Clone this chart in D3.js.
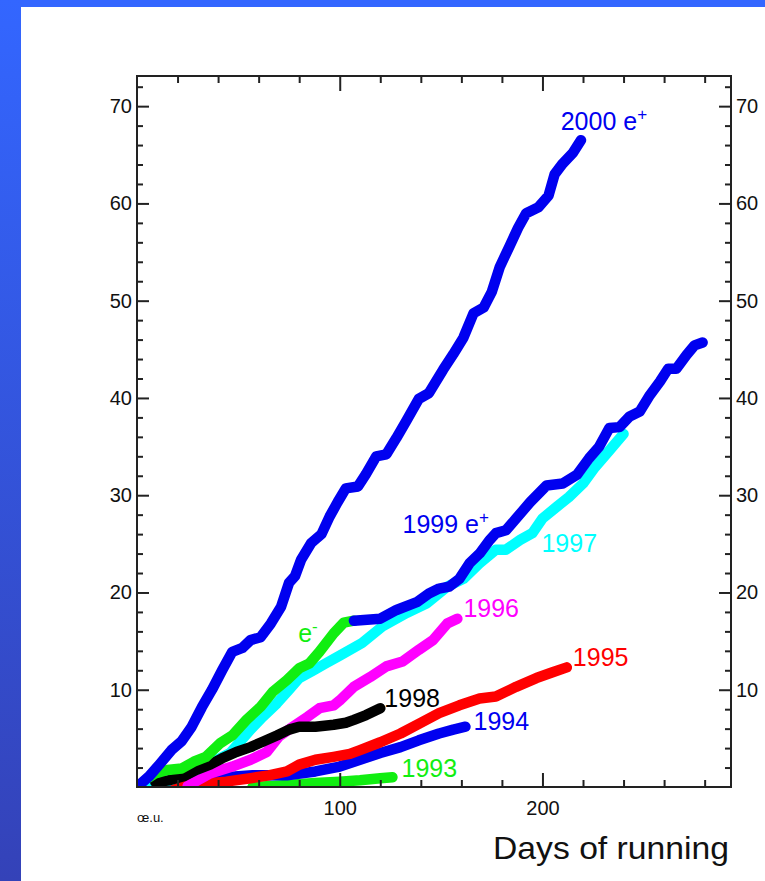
<!DOCTYPE html>
<html>
<head>
<meta charset="utf-8">
<script src="https://cdn.jsdelivr.net/npm/d3@7"></script>
<style>
	body { margin: 0; background: #fff; }
	svg { display: block; font-family: "Liberation Sans", Arial, sans-serif; }
</style>
</head>
<body>
<svg id="chart" width="765" height="881"></svg>
<script>
(function(window) {

	// cumulative luminosity vs days of running, one array per year [day, value]
	var run1993 = [[57,0],[74,0.2],[88,0.4],[100,0.55],[110,0.7],[120,0.9],[126,1.0]];
	var run1994 = [[16,0.2],[36,0.9],[57,1.2],[74,1.2],[88,1.6],[100,2.1],[110,2.8],[120,3.5],[130,4.1],[139,4.8],[149,5.5],[156,5.9],[162,6.2]];
	var run1995 = [[19,0.2],[31,0.3],[44,0.55],[56,0.9],[65,1.2],[74,1.6],[80,2.3],[88,2.8],[97,3.1],[105,3.4],[110,3.8],[120,4.6],[130,5.5],[139,6.5],[149,7.6],[159,8.4],[169,9.1],[177,9.3],[187,10.3],[197,11.2],[205,11.8],[212,12.3]];
	var run1996 = [[25,0.1],[30,0.7],[36,1.4],[47,2.1],[56,2.8],[64,3.6],[70,5.2],[77,6.2],[84,7.2],[90,8.1],[97,8.4],[100,8.9],[107,10.3],[115,11.3],[123,12.4],[131,12.9],[139,14.1],[146,15.1],[153,16.8],[158,17.3]];
	var run1997 = [[4,0],[15,0.6],[25,1.4],[35,2.3],[46,3.5],[51,4.7],[56,5.9],[62,7.2],[69,8.6],[75,10],[80,11.2],[87,12],[93,12.7],[100,13.5],[111,14.8],[121,16.5],[133,17.9],[143,18.9],[153,20.6],[161,21.4],[169,23],[177,24.4],[182,24.4],[189,25.4],[195,26.1],[200,27.6],[207,28.8],[213,29.8],[220,31.2],[226,32.9],[233,34.6],[240,36.3]];
	var run1998 = [[9,0.5],[16,0.7],[23,1.1],[29,1.75],[36,2.3],[42,2.95],[49,3.6],[56,4.1],[62,4.65],[69,5.3],[75,5.9],[80,6.2],[88,6.2],[97,6.4],[103,6.6],[107,6.9],[113,7.4],[120,8.1]];
	var run1999em = [[6,1.0],[9,1.4],[15,1.75],[22,1.9],[28,2.6],[34,3.1],[41,4.5],[47,5.3],[54,6.9],[61,8.25],[67,9.8],[74,11],[80,12.2],[85,12.7],[90,13.9],[97,15.8],[102,16.9],[107,17.1]];
	var run1999ep = [[107,17.1],[120,17.3],[128,18.2],[138,19],[144,19.9],[149,20.4],[154,20.6],[159,21.4],[164,23],[169,24],[174,25.4],[177,26.1],[182,26.4],[187,27.6],[194,29.3],[202,31],[210,31.2],[217,32.1],[223,33.8],[228,35],[233,36.9],[238,37],[243,38.1],[248,38.6],[253,40.3],[258,41.7],[262,43],[266,43],[271,44.4],[275,45.4],[279,45.7]];
	var run2000 = [[0,0],[6,1.1],[11,2.3],[17,3.8],[22,4.7],[27,6.2],[32,8.2],[37,10],[42,12],[47,13.9],[52,14.3],[56,15.1],[61,15.4],[66,16.8],[71,18.5],[75,21],[78,21.7],[81,23.4],[86,25.1],[91,26],[95,27.8],[99,29.3],[103,30.7],[109,30.9],[113,32.2],[118,34],[123,34.2],[128,35.9],[133,37.7],[139,39.9],[144,40.5],[151,42.9],[156,44.5],[161,46.2],[166,48.7],[171,49.3],[175,50.9],[179,53.5],[184,55.7],[188,57.5],[192,59],[198,59.6],[203,60.8],[206,63],[210,64.1],[215,65.2],[219,66.5]];

	var seriesNames = ['1993', '1994', '1995', '1996', '1997', '1998', 'e-', '1999 e+', '2000 e+'];
	var seriesData = [run1993, run1994, run1995, run1996, run1997, run1998, run1999em, run1999ep, run2000];
	var seriesColors = ['#11ee11', '#0000f0', '#ff0000', '#ff00ff', '#00ffff', '#000000', '#11ee11', '#0000f0', '#0000f0'];

	// label anchors in data units (day, value)
	var labelDays = [130.5, 166, 215, 161, 199.5, 122, 79.5, 131, 209];
	var labelValues = [1.0, 5.9, 12.4, 17.5, 24.2, 8.2, 14.9, 26.1, 67.5];

	var xMajor = [100, 200];
	var xMinor = d3.range(20, 293, 20).filter(function(d) { return d % 100 !== 0; });
	var yMajor = [10, 20, 30, 40, 50, 60, 70];
	var yMinor = d3.range(2, 73, 2).filter(function(d) { return d % 10 !== 0; });

	var svg = d3.select('#chart');
	var W = 765, H = 881;
	var plot = { left: 137, top: 76, right: 731, bottom: 787 };

	// slide frame
	var defs = svg.append('defs');
	var grad = defs.append('linearGradient').attr('id', 'sideGrad')
		.attr('x1', 0).attr('y1', 0).attr('x2', 0).attr('y2', 1);
	grad.append('stop').attr('offset', '0%').attr('stop-color', '#3366ff');
	grad.append('stop').attr('offset', '100%').attr('stop-color', '#3442b8');
	svg.append('rect').attr('x', 0).attr('y', 0).attr('width', W).attr('height', H).attr('fill', '#fff');
	svg.append('rect').attr('x', 0).attr('y', 0).attr('width', W).attr('height', 7).attr('fill', '#3366ff');
	svg.append('rect').attr('x', 0).attr('y', 0).attr('width', 21).attr('height', H).attr('fill', 'url(#sideGrad)');

	var x = d3.scaleLinear().domain([0, 293]).range([plot.left, plot.right]);
	var y = d3.scaleLinear().domain([0, 73.1]).range([plot.bottom, plot.top]);

	defs.append('clipPath').attr('id', 'plotClip')
		.append('rect')
		.attr('x', plot.left).attr('y', plot.top)
		.attr('width', plot.right - plot.left).attr('height', plot.bottom - plot.top);

	var line = d3.line()
		.x(function(d) { return x(d[0]); })
		.y(function(d) { return y(d[1]); });

	svg.append('g').attr('clip-path', 'url(#plotClip)')
		.selectAll('path')
		.data(seriesData)
		.enter().append('path')
			.attr('d', line)
			.attr('fill', 'none')
			.attr('stroke', function(d, i) { return seriesColors[i]; })
			.attr('stroke-width', 10.5)
			.attr('stroke-linejoin', 'round')
			.attr('stroke-linecap', 'round');

	// axes, ticks drawn inward
	function styleAxis(g) {
		g.select('.domain').remove();
		g.selectAll('line').attr('stroke', '#222').attr('stroke-width', 2);
		g.selectAll('text').attr('fill', '#111').attr('font-size', 20).attr('font-family', '"Liberation Sans", Arial, sans-serif');
	}

	svg.append('g').attr('transform', 'translate(' + plot.left + ',0)')
		.call(d3.axisLeft(y).tickValues(yMajor).tickSize(-12).tickPadding(5).tickFormat(d3.format('d'))).call(styleAxis);
	svg.append('g').attr('transform', 'translate(' + plot.left + ',0)')
		.call(d3.axisLeft(y).tickValues(yMinor).tickSize(-6).tickFormat('')).call(styleAxis);
	svg.append('g').attr('transform', 'translate(' + plot.right + ',0)')
		.call(d3.axisRight(y).tickValues(yMajor).tickSize(-12).tickPadding(5).tickFormat(d3.format('d'))).call(styleAxis);
	svg.append('g').attr('transform', 'translate(' + plot.right + ',0)')
		.call(d3.axisRight(y).tickValues(yMinor).tickSize(-6).tickFormat('')).call(styleAxis);
	svg.append('g').attr('transform', 'translate(0,' + plot.bottom + ')')
		.call(d3.axisBottom(x).tickValues(xMajor).tickSize(-14).tickPadding(14).tickFormat(d3.format('d'))).call(styleAxis);
	svg.append('g').attr('transform', 'translate(0,' + plot.bottom + ')')
		.call(d3.axisBottom(x).tickValues(xMinor).tickSize(-7).tickFormat('')).call(styleAxis);
	svg.append('g').attr('transform', 'translate(0,' + plot.top + ')')
		.call(d3.axisTop(x).tickValues(xMajor).tickSize(-15).tickFormat('')).call(styleAxis);
	svg.append('g').attr('transform', 'translate(0,' + plot.top + ')')
		.call(d3.axisTop(x).tickValues(xMinor).tickSize(-7).tickFormat('')).call(styleAxis);

	svg.append('rect')
		.attr('x', plot.left).attr('y', plot.top)
		.attr('width', plot.right - plot.left).attr('height', plot.bottom - plot.top)
		.attr('fill', 'none').attr('stroke', '#222').attr('stroke-width', 2);

	// curve labels
	var labels = svg.append('g').selectAll('text')
		.data(seriesNames)
		.enter().append('text')
			.attr('x', function(d, i) { return x(labelDays[i]); })
			.attr('y', function(d, i) { return y(labelValues[i]); })
			.attr('fill', function(d, i) { return seriesColors[i]; })
			.attr('font-size', 25);
	labels.each(function(d) {
		var t = d3.select(this);
		var m = d.match(/^(.*)e([+-])$/);
		if (!m) { t.text(d); return; }
		t.append('tspan').text(m[1] + 'e');
		t.append('tspan').attr('dy', -10).attr('font-size', 17).text(m[2] === '-' ? '-' : '+');
	});

	svg.append('text')
		.attr('x', 137).attr('y', 822)
		.attr('font-size', 13).attr('fill', '#111')
		.text('œ.u.');

	svg.append('text')
		.attr('x', 729).attr('y', 859)
		.attr('text-anchor', 'end')
		.attr('font-size', 32).attr('fill', '#111')
		.attr('textLength', 236).attr('lengthAdjust', 'spacingAndGlyphs')
		.text('Days of running');

})(window)
</script>
</body>
</html>
